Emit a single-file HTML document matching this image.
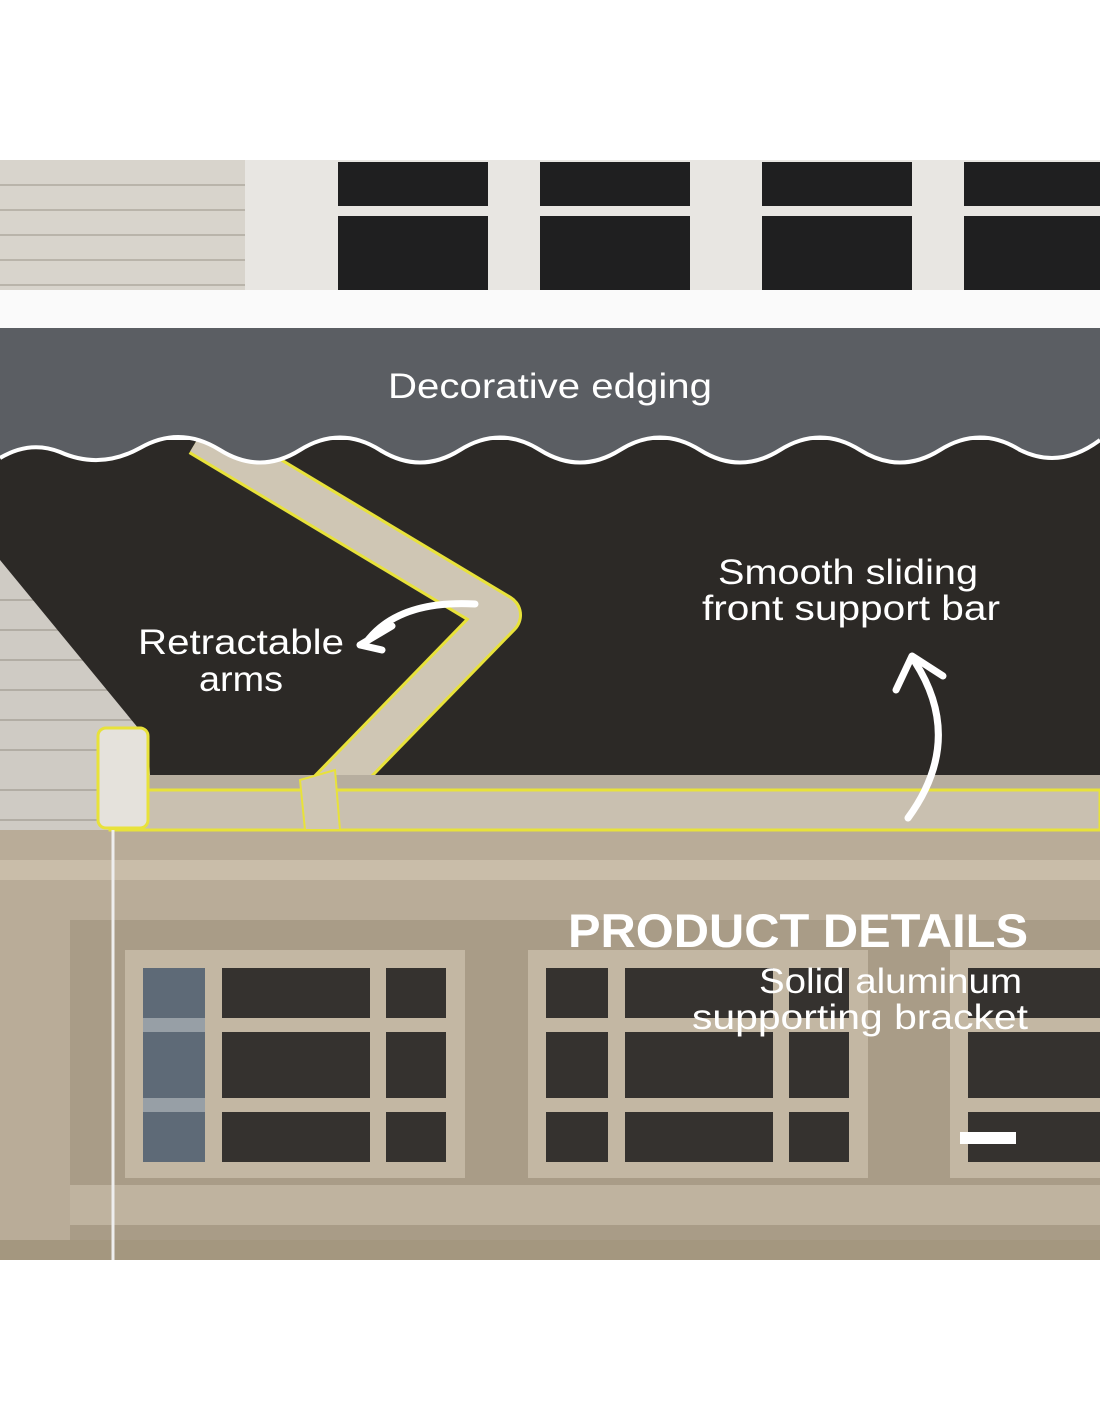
<!DOCTYPE html>
<html><head><meta charset="utf-8"><style>
html,body{margin:0;padding:0;background:#fff;width:1100px;height:1422px;overflow:hidden}
svg{display:block}
text{font-family:"Liberation Sans",sans-serif;fill:#fff}
</style></head><body>
<svg width="1100" height="1422" viewBox="0 0 1100 1422">
<rect x="0" y="0" width="1100" height="1422" fill="#fff"/>
<rect x="0" y="160" width="1100" height="135" fill="#d8d4cc"/>
<g stroke="#b9b4aa" stroke-width="2">
<line x1="0" y1="185" x2="245" y2="185"/><line x1="0" y1="210" x2="245" y2="210"/><line x1="0" y1="235" x2="245" y2="235"/><line x1="0" y1="260" x2="245" y2="260"/><line x1="0" y1="285" x2="245" y2="285"/></g>
<rect x="245" y="160" width="855" height="135" fill="#e8e6e2"/>
<rect x="338" y="162" width="150" height="130" fill="#1f1f20"/>
<rect x="540" y="162" width="150" height="130" fill="#1f1f20"/>
<rect x="762" y="162" width="150" height="130" fill="#1f1f20"/>
<rect x="964" y="162" width="136" height="130" fill="#1f1f20"/>
<rect x="245" y="206" width="855" height="10" fill="#e8e6e2"/>
<rect x="0" y="290" width="1100" height="38" fill="#fafafa"/>
<rect x="0" y="470" width="160" height="390" fill="#cfcbc4"/>
<g stroke="#b2ada4" stroke-width="2">
<line x1="0" y1="600" x2="160" y2="600"/><line x1="0" y1="630" x2="160" y2="630"/><line x1="0" y1="660" x2="160" y2="660"/><line x1="0" y1="690" x2="160" y2="690"/><line x1="0" y1="720" x2="160" y2="720"/><line x1="0" y1="750" x2="160" y2="750"/><line x1="0" y1="790" x2="160" y2="790"/><line x1="0" y1="820" x2="160" y2="820"/></g>
<polygon points="0,440 1100,440 1100,775 150,775 148,740 0,560" fill="#2c2926"/>
<polyline points="200,435 500,615 320,800" fill="none" stroke="#e8e23a" stroke-width="44" stroke-linejoin="round"/>
<polyline points="200,435 500,615 320,800" fill="none" stroke="#cfc6b4" stroke-width="38" stroke-linejoin="round"/>
<path d="M0,328 H1100 V440 Q1060,470 1020,450 Q980,425 940,450 Q900,475 860,450 Q820,425 780,450 Q740,475 700,450 Q660,425 620,450 Q580,475 540,450 Q500,425 460,450 Q420,475 380,450 Q340,425 300,450 Q260,475 220,450 Q180,425 140,448 Q100,470 60,452 Q30,440 0,458 Z" fill="#5b5e63"/>
<path d="M0,458 Q30,440 60,452 Q100,470 140,448 Q180,425 220,450 Q260,475 300,450 Q340,425 380,450 Q420,475 460,450 Q500,425 540,450 Q580,475 620,450 Q660,425 700,450 Q740,475 780,450 Q820,425 860,450 Q900,475 940,450 Q980,425 1020,450 Q1060,470 1100,440" fill="none" stroke="#fff" stroke-width="4"/>
<rect x="0" y="830" width="1100" height="430" fill="#b9ac98"/>
<rect x="0" y="860" width="1100" height="20" fill="#c9bda9"/>
<rect x="70" y="920" width="1030" height="340" fill="#a99c87"/>
<rect x="125" y="950" width="340" height="228" fill="#c3b7a3"/>
<rect x="528" y="950" width="340" height="228" fill="#c3b7a3"/>
<rect x="950" y="950" width="150" height="228" fill="#c3b7a3"/>
<g fill="#35322f">
<rect x="143" y="968" width="62" height="50"/><rect x="222" y="968" width="148" height="50"/><rect x="386" y="968" width="60" height="50"/>
<rect x="143" y="1032" width="62" height="66"/><rect x="222" y="1032" width="148" height="66"/><rect x="386" y="1032" width="60" height="66"/>
<rect x="143" y="1112" width="62" height="50"/><rect x="222" y="1112" width="148" height="50"/><rect x="386" y="1112" width="60" height="50"/>
<rect x="546" y="968" width="62" height="50"/><rect x="625" y="968" width="148" height="50"/><rect x="789" y="968" width="60" height="50"/>
<rect x="546" y="1032" width="62" height="66"/><rect x="625" y="1032" width="148" height="66"/><rect x="789" y="1032" width="60" height="66"/>
<rect x="546" y="1112" width="62" height="50"/><rect x="625" y="1112" width="148" height="50"/><rect x="789" y="1112" width="60" height="50"/>
<rect x="968" y="968" width="132" height="50"/><rect x="968" y="1032" width="132" height="66"/><rect x="968" y="1112" width="132" height="50"/>
</g>
<rect x="143" y="968" width="62" height="194" fill="#7a8fa8" opacity="0.6"/>
<rect x="70" y="1185" width="1030" height="40" fill="#bfb39f"/>
<rect x="0" y="1240" width="1100" height="20" fill="#a4977f"/>
<rect x="110" y="775" width="990" height="55" fill="#b7ae9f"/>
<rect x="110" y="790" width="990" height="40" fill="#c9c0b0" stroke="#e8e23a" stroke-width="3"/>
<rect x="98" y="728" width="50" height="100" rx="8" fill="#e5e2dc" stroke="#e8e23a" stroke-width="3"/>
<line x1="113" y1="830" x2="113" y2="1260" stroke="#eee" stroke-width="3"/>
<polygon points="300,780 335,770 340,830 305,830" fill="#cfc6b4" stroke="#e8e23a" stroke-width="2"/>
<path d="M475,604 Q400,600 368,640" fill="none" stroke="#fff" stroke-width="7" stroke-linecap="round"/>
<path d="M360,645 L392,626 M360,645 L382,650" stroke="#fff" stroke-width="7" stroke-linecap="round" fill="none"/>
<path d="M908,818 Q965,740 915,662" fill="none" stroke="#fff" stroke-width="7" stroke-linecap="round"/>
<path d="M912,656 L896,690 M912,656 L943,676" stroke="#fff" stroke-width="7" stroke-linecap="round" fill="none"/>
<text x="388" y="398" font-size="35" textLength="324" lengthAdjust="spacingAndGlyphs">Decorative edging</text>
<text x="138" y="654" font-size="35" textLength="206" lengthAdjust="spacingAndGlyphs">Retractable</text>
<text x="199" y="691" font-size="35" textLength="84" lengthAdjust="spacingAndGlyphs">arms</text>
<text x="718" y="584" font-size="35" textLength="260" lengthAdjust="spacingAndGlyphs">Smooth sliding</text>
<text x="702" y="620" font-size="35" textLength="298" lengthAdjust="spacingAndGlyphs">front support bar</text>
<text x="568" y="947" font-size="47" font-weight="bold" textLength="460" lengthAdjust="spacingAndGlyphs">PRODUCT DETAILS</text>
<text x="759" y="993" font-size="35" textLength="263" lengthAdjust="spacingAndGlyphs">Solid aluminum</text>
<text x="692" y="1029" font-size="35" textLength="336" lengthAdjust="spacingAndGlyphs">supporting bracket</text>
<rect x="960" y="1132" width="56" height="12" fill="#fff"/>
</svg>
</body></html>
